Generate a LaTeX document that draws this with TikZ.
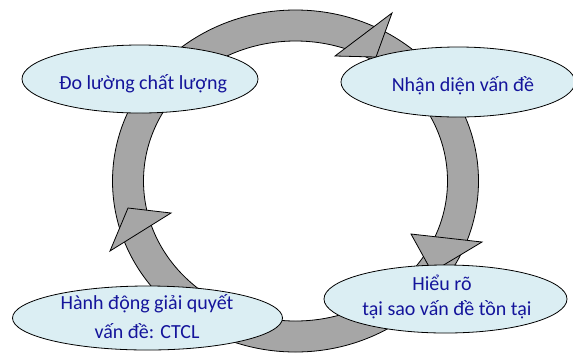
\documentclass[tikz,border=0pt]{standalone}
\usepackage{fontspec}
\setmainfont{Carlito}
\usetikzlibrary{shapes.geometric}
\definecolor{ringgray}{RGB}{166,166,166}
\definecolor{boxblue}{RGB}{219,238,243}
\definecolor{txtblue}{RGB}{20,20,155}
\begin{document}
\begin{tikzpicture}[x=1bp,y=-1bp,
  stage/.style={ellipse, draw=black, line width=0.8bp, fill=boxblue, inner sep=0pt},
  lbl/.style={text=txtblue, font=\fontsize{20bp}{24bp}\selectfont, inner sep=0pt, anchor=base},
  ring/.style={fill=ringgray, draw=black, line width=0.8bp, line join=miter}]
\useasboundingbox (0,0) rectangle (573,354);
% ring
\path[ring, even odd rule] (295.5,181) ellipse [x radius=183bp, y radius=171bp]
      (295.5,181) ellipse [x radius=152bp, y radius=140bp];
% arrow heads
\draw[ring] (335,56) -- (392,13) -- (376,57) -- cycle;
\draw[ring] (411,234) -- (482,242) -- (432,272) -- cycle;
\draw[ring] (128,208) -- (171,213) -- (110,251) -- cycle;
% stages
\node[stage, minimum width=236bp, minimum height=68bp] (e1) at (140,79) {};
\node[stage, minimum width=234bp, minimum height=70bp] (e2) at (458,82) {};
\node[stage, minimum width=243bp, minimum height=68bp] (e3) at (445.5,299) {};
\node[stage, minimum width=270bp, minimum height=64bp] (e4) at (147.5,318) {};
% labels
\node[lbl] (t1) at (143,89) {Đo lường chất lượng};
\node[lbl] (t2) at (463,91.5) {Nhận diện vấn đề};
\node[lbl] (t3a) at (442,290.5) {Hiểu rõ};
\node[lbl] (t3b) at (447,315) {tại sao vấn đề tồn tại};
\node[lbl] (t4a) at (147,309) {Hành động giải quyết};
\node[lbl] (t4b) at (147,338) {vấn đề: CTCL};
\end{tikzpicture}
\end{document}
